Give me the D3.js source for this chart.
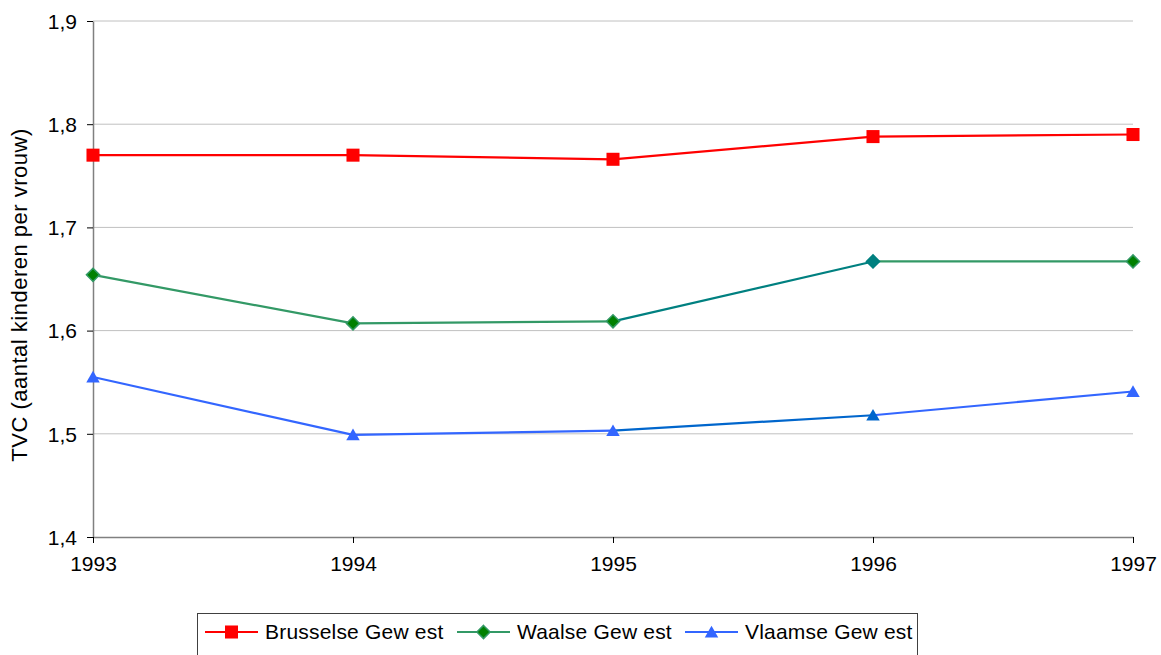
<!DOCTYPE html>
<html>
<head>
<meta charset="utf-8">
<script src="https://cdn.jsdelivr.net/npm/d3@7"></script>
<style>
  body { margin: 0; background: #fff; }
  text { font-family: Arial, "Liberation Sans", sans-serif; fill: #000; }
</style>
</head>
<body>
<svg id="chart" width="1161" height="655"></svg>
<script>
// data
var years = [1993, 1994, 1995, 1996, 1997];
var brussel = [1.770, 1.770, 1.766, 1.788, 1.790];
var waals = [1.654, 1.607, 1.609, 1.667, 1.667];
var vlaams = [1.555, 1.499, 1.503, 1.518, 1.541];
var yTicks = [1.4, 1.5, 1.6, 1.7, 1.8, 1.9];
var seriesNames = ["Brusselse Gew est", "Waalse Gew est", "Vlaamse Gew est"];

var series = [
  { name: seriesNames[0], values: brussel, color: "#ff0000", alt: "#ff0000", fill: "#ff0000", altFill: "#ff0000", shape: "square" },
  { name: seriesNames[1], values: waals, color: "#339966", alt: "#008080", fill: "#008000", altFill: "#008080", shape: "diamond" },
  { name: seriesNames[2], values: vlaams, color: "#3366ff", alt: "#0066cc", fill: "#3366ff", altFill: "#0066cc", shape: "triangle" }
];
// the 1995-1996 segment and 1996 marker are drawn in a darker shade
var altIndex = 3;

var svg = d3.select("#chart");
var margin = { left: 93, right: 28, top: 21, bottom: 118 };
var width = 1161, height = 655;

var x = d3.scalePoint()
    .domain(years)
    .range([margin.left, width - margin.right]);

var y = d3.scaleLinear()
    .domain([1.4, 1.9])
    .range([height - margin.bottom, margin.top]);

var fmt = function(d) { return d3.format(".1f")(d).replace(".", ","); };

// gridlines
svg.append("g")
    .selectAll("line")
    .data(yTicks.slice(1))
    .enter().append("line")
    .attr("x1", x.range()[0])
    .attr("x2", x.range()[1])
    .attr("y1", function(d) { return y(d); })
    .attr("y2", function(d) { return y(d); })
    .attr("stroke", "#c0c0c0")
    .attr("stroke-width", 1);

// y axis
var yAxis = svg.append("g")
    .attr("transform", "translate(" + margin.left + ",0)")
    .call(d3.axisLeft(y).tickValues(yTicks).tickSize(6).tickSizeOuter(0).tickPadding(10).tickFormat(fmt));
yAxis.select(".domain").attr("stroke", "#808080").attr("stroke-width", 1.5);
yAxis.selectAll(".tick line").attr("stroke", "#000");
yAxis.selectAll("text").style("font-size", "21px").attr("dy", "0.35em");

// x axis
var xAxis = svg.append("g")
    .attr("transform", "translate(0," + y(1.4) + ")")
    .call(d3.axisBottom(x).tickSize(6).tickSizeOuter(0).tickPadding(13));
xAxis.select(".domain").attr("stroke", "#808080").attr("stroke-width", 1.5);
xAxis.selectAll(".tick line").attr("stroke", "#000");
xAxis.selectAll("text").style("font-size", "21px");

// y axis title
svg.append("text")
    .attr("transform", "translate(27,295) rotate(-90)")
    .attr("text-anchor", "middle")
    .style("font-size", "22px")
    .style("letter-spacing", "0.5px")
    .text("TVC (aantal kinderen per vrouw)");

function symbolFor(shape, size) {
  var type = shape === "square" ? d3.symbolSquare : shape === "diamond" ? d3.symbolDiamond2 : d3.symbolTriangle2;
  return d3.symbol().type(type).size(size)();
}
var symbolSize = { square: 170, diamond: 110, triangle: 130 };

series.forEach(function(s) {
  var g = svg.append("g");
  var pts = s.values.map(function(v, i) { return [x(years[i]), y(v)]; });

  g.selectAll("line")
    .data(d3.pairs(pts))
    .enter().append("line")
    .attr("x1", function(d) { return d[0][0]; })
    .attr("y1", function(d) { return d[0][1]; })
    .attr("x2", function(d) { return d[1][0]; })
    .attr("y2", function(d) { return d[1][1]; })
    .attr("stroke", function(d, i) { return i + 1 === altIndex ? s.alt : s.color; })
    .attr("stroke-width", 2.2);

  g.selectAll("path")
    .data(pts)
    .enter().append("path")
    .attr("transform", function(d) {
      return "translate(" + d[0] + "," + (d[1] + (s.shape === "triangle" ? 1.5 : 0)) + ")";
    })
    .attr("d", symbolFor(s.shape, symbolSize[s.shape]))
    .attr("fill", function(d, i) { return i === altIndex ? s.altFill : s.fill; })
    .attr("stroke", function(d, i) { return s.shape === "diamond" ? (i === altIndex ? s.alt : s.color) : "none"; })
    .attr("stroke-width", 1.5);
});

// legend
var legend = svg.append("g");
legend.append("rect")
    .attr("x", 197.5)
    .attr("y", 613.5)
    .attr("width", 720)
    .attr("height", 60)
    .attr("fill", "#fff")
    .attr("stroke", "#404040")
    .attr("stroke-width", 1);

var legendX = [205, 457, 685];
series.forEach(function(s, i) {
  var lg = legend.append("g").attr("transform", "translate(" + legendX[i] + ",632)");
  lg.append("line")
    .attr("x1", 0).attr("x2", 53)
    .attr("y1", 0).attr("y2", 0)
    .attr("stroke", s.color)
    .attr("stroke-width", 2.2);
  lg.append("path")
    .attr("transform", "translate(26.5," + (s.shape === "triangle" ? 1.5 : 0) + ")")
    .attr("d", symbolFor(s.shape, symbolSize[s.shape]))
    .attr("fill", s.fill)
    .attr("stroke", s.shape === "diamond" ? s.color : "none")
    .attr("stroke-width", 1.5);
  lg.append("text")
    .attr("x", 60)
    .attr("y", 0)
    .attr("dy", "0.35em")
    .style("font-size", "21px")
    .style("letter-spacing", "0.2px")
    .text(s.name);
});
</script>
</body>
</html>
